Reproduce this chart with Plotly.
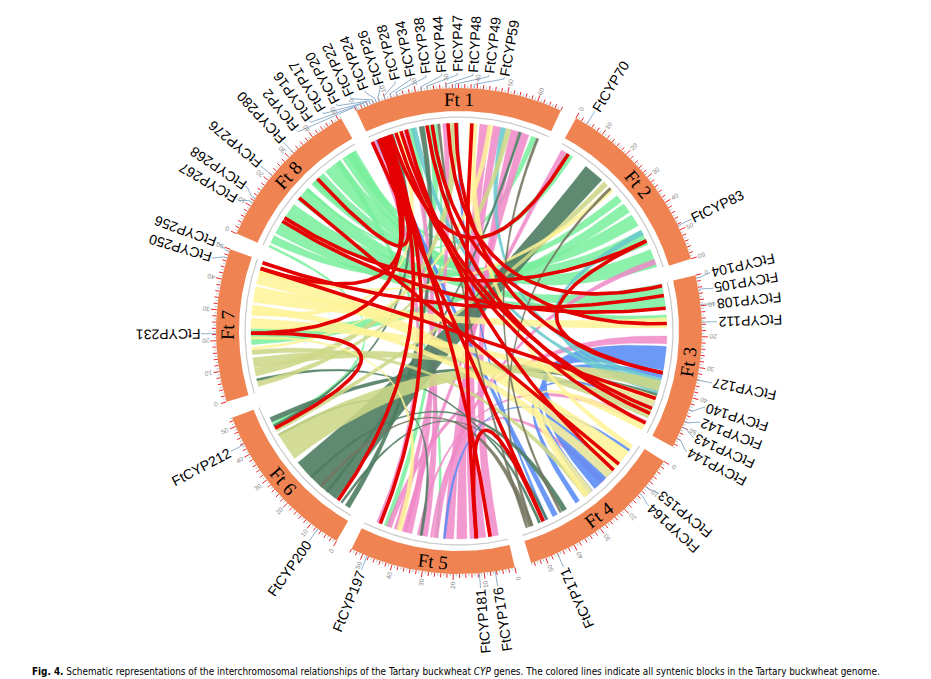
import numpy as np
import plotly.graph_objects as go

# ---------------- data ----------------
chrom_names = ["Ft1", "Ft2", "Ft3", "Ft4", "Ft5", "Ft6", "Ft7", "Ft8"]
chrom_labels = ["Ft 1", "Ft 2", "Ft 3", "Ft 4", "Ft 5", "Ft 6", "Ft 7", "Ft 8"]
chrom_lengths_mb = [68, 60, 57, 55, 54, 53, 50, 51]

gene_names = ["FtCYP2", "FtCYP16", "FtCYP17", "FtCYP20", "FtCYP22", "FtCYP24", "FtCYP26",
              "FtCYP28", "FtCYP34", "FtCYP38", "FtCYP44", "FtCYP47", "FtCYP48", "FtCYP49",
              "FtCYP59", "FtCYP70", "FtCYP83", "FtCYP104", "FtCYP105", "FtCYP108", "FtCYP112",
              "FtCYP127", "FtCYP140", "FtCYP142", "FtCYP143", "FtCYP144", "FtCYP153", "FtCYP164",
              "FtCYP171", "FtCYP176", "FtCYP181", "FtCYP197", "FtCYP200", "FtCYP212", "FtCYP231",
              "FtCYP250", "FtCYP256", "FtCYP267", "FtCYP268", "FtCYP276", "FtCYP280"]
gene_chroms = ["Ft1"] * 15 + ["Ft2"] * 2 + ["Ft3"] * 9 + ["Ft4"] * 3 + ["Ft5"] * 3 + \
              ["Ft6"] * 2 + ["Ft7"] * 3 + ["Ft8"] * 4
gene_pos_mb = [0.5, 3, 4, 5, 6, 7, 8, 10, 12, 14, 22, 24, 30, 33, 39,
               4, 48.5,
               1, 4.7, 9.6, 15.3, 34, 44, 48, 50, 54,
               10, 13, 46,
               6.4, 11.6, 48.5,
               7.2, 43.6,
               22.3, 47, 49.3,
               11.2, 12.7, 22, 32]

# segmental duplication pairs of CYP genes (red links)
cyp_pairs = [("FtCYP231", "FtCYP212"), ("FtCYP181", "FtCYP171"), ("FtCYP176", "FtCYP20"),
             ("FtCYP268", "FtCYP83"), ("FtCYP267", "FtCYP108"), ("FtCYP276", "FtCYP153"),
             ("FtCYP70", "FtCYP26"), ("FtCYP83", "FtCYP127"), ("FtCYP250", "FtCYP140"),
             ("FtCYP256", "FtCYP105"), ("FtCYP200", "FtCYP22"), ("FtCYP197", "FtCYP24"),
             ("FtCYP28", "FtCYP144"), ("FtCYP34", "FtCYP142"), ("FtCYP38", "FtCYP164"),
             ("FtCYP44", "FtCYP143"), ("FtCYP47", "FtCYP112"), ("FtCYP16", "FtCYP231"),
             ("FtCYP17", "FtCYP250"), ("FtCYP48", "FtCYP104"), ("FtCYP280", "FtCYP17"),
             ("FtCYP49", "FtCYP127"), ("FtCYP59", "FtCYP181"), ("FtCYP2", "FtCYP171")]

# syntenic blocks: (chrom A, start, end, chrom B, start, end, colour class), Mb
synteny_blocks = [
    ("Ft8", 44, 50, "Ft1", 14, 17, "g"), ("Ft8", 36, 43, "Ft2", 52, 59, "g"),
    ("Ft8", 29, 35, "Ft2", 44, 50, "g"), ("Ft8", 21, 27, "Ft3", 0, 5, "g"),
    ("Ft8", 13, 19, "Ft2", 37, 42, "g"), ("Ft8", 6, 11, "Ft3", 5, 9, "g"),
    ("Ft8", 2, 5, "Ft2", 28, 31, "g"), ("Ft8", 41, 43, "Ft5", 26, 27, "g"),
    ("Ft2", 3, 6, "Ft8", 47, 49, "g"), ("Ft7", 18, 24, "Ft2", 32, 36, "g"),
    ("Ft1", 22, 25, "Ft8", 30, 31, "g"), ("Ft1", 62, 64, "Ft8", 26, 27, "g"),
    ("Ft3", 12, 14, "Ft8", 46, 47, "g"), ("Ft5", 45, 47, "Ft1", 25, 26, "g"),
    ("Ft6", 44, 46, "Ft8", 0, 1, "g"),
    ("Ft1", 42, 46, "Ft5", 8, 14, "p"), ("Ft1", 47, 50, "Ft5", 15, 19, "p"),
    ("Ft1", 54, 57, "Ft5", 3, 7, "p"), ("Ft1", 58, 61, "Ft5", 20, 24, "p"),
    ("Ft1", 5, 7, "Ft5", 30, 33, "p"), ("Ft1", 13, 15, "Ft5", 36, 39, "p"),
    ("Ft1", 28, 30, "Ft5", 41, 43, "p"), ("Ft1", 0, 2, "Ft5", 48, 50, "p"),
    ("Ft2", 1, 3, "Ft5", 38, 40, "p"), ("Ft2", 56, 58, "Ft5", 26, 28, "p"),
    ("Ft3", 20, 23, "Ft5", 44, 46, "p"), ("Ft3", 53, 55, "Ft5", 33, 34, "p"),
    ("Ft4", 18, 20, "Ft5", 28, 29, "p"),
    ("Ft3", 24, 33, "Ft4", 14, 23, "b"), ("Ft3", 34, 36, "Ft4", 24, 26, "b"),
    ("Ft3", 45, 47, "Ft4", 30, 32, "b"), ("Ft1", 2, 4, "Ft4", 40, 42, "b"),
    ("Ft1", 33, 34, "Ft4", 44, 45, "b"), ("Ft4", 3, 4, "Ft5", 23, 24, "b"),
    ("Ft1", 16, 18, "Ft3", 40, 42, "t"), ("Ft1", 50, 52, "Ft3", 36, 38, "t"),
    ("Ft2", 44, 46, "Ft3", 38, 40, "t"),
    ("Ft2", 12, 20, "Ft6", 8, 28, "dg"), ("Ft1", 7, 9, "Ft6", 44, 45, "dg"),
    ("Ft1", 19, 21, "Ft6", 2, 4, "dg"), ("Ft3", 42, 44, "Ft6", 46, 48, "dg"),
    ("Ft4", 36, 38, "Ft6", 20, 21, "dg"), ("Ft4", 44, 45, "Ft6", 5, 6, "dg"),
    ("Ft4", 47, 48, "Ft7", 4, 5, "dg"), ("Ft1", 57, 58, "Ft6", 12, 13, "dg"),
    ("Ft5", 32, 33, "Ft6", 40, 41, "dg"),
    ("Ft3", 37, 41, "Ft6", 30, 41, "k"), ("Ft1", 31, 34, "Ft7", 6, 9, "k"),
    ("Ft1", 52, 54, "Ft7", 2, 4, "k"), ("Ft2", 21, 23, "Ft6", 42, 44, "k"),
    ("Ft3", 48, 52, "Ft7", 9, 13, "k"), ("Ft4", 26, 28, "Ft7", 14, 16, "k"),
    ("Ft4", 4, 12, "Ft7", 41, 48, "y"), ("Ft3", 13, 17, "Ft7", 34, 40, "y"),
    ("Ft3", 43, 47, "Ft7", 24, 28, "y"), ("Ft1", 10, 12, "Ft7", 29, 31, "y"),
    ("Ft1", 45, 47, "Ft7", 16, 17, "y"), ("Ft1", 38, 41, "Ft4", 1, 3, "y"),
    ("Ft4", 13, 17, "Ft7", 30, 33, "y"), ("Ft3", 54, 57, "Ft4", 24, 28, "y"),
    ("Ft2", 24, 26, "Ft7", 45, 46, "y"), ("Ft5", 40, 42, "Ft7", 20, 21, "y"),
    ("Ft2", 24, 25, "Ft4", 50, 51, "o"), ("Ft4", 50, 52, "Ft6", 15, 16, "o"),
    ("Ft1", 26, 27, "Ft4", 52, 53, "o"), ("Ft1", 64, 65, "Ft4", 38, 39, "o"),
]

colour_classes = {"g": "rgba(120,238,155,0.85)", "p": "rgba(240,135,200,0.85)",
                  "b": "rgba(88,138,245,0.88)", "t": "rgba(105,200,205,0.88)",
                  "dg": "rgba(78,124,98,0.9)", "k": "rgba(205,215,135,0.88)",
                  "y": "rgba(255,243,150,0.85)", "o": "rgba(118,118,96,0.9)"}

caption_html = ("<b>Fig. 4.</b> Schematic representations of the interchromosomal relationships "
                "of the Tartary buckwheat <i>CYP</i> genes. The colored lines indicate all syntenic "
                "blocks in the Tartary buckwheat genome.")

# ---------------- geometry ----------------
W, H = 931, 679
CX, CY = 451, 323
R_OUT, R_IN, R_GRAY, R_LINK = 243, 220, 214, 208
GAP_DEG, START_DEG = 4.0, -25.0
SCALE = (360 - GAP_DEG * len(chrom_names)) / sum(chrom_lengths_mb)

chrom_start = {}
a = START_DEG
for n, L in zip(chrom_names, chrom_lengths_mb):
    chrom_start[n] = a
    a += L * SCALE + GAP_DEG


def ang(c, mb):
    return chrom_start[c] + mb * SCALE


def xy(theta, r):
    t = np.radians(theta)
    return CX + r * np.sin(t), CY - r * np.cos(t)


def flip(theta):
    t = theta % 360
    return 72 <= t < 252


fig = go.Figure()
ann = []

# chromosome bands
for n, lab, L in zip(chrom_names, chrom_labels, chrom_lengths_mb):
    th = np.linspace(ang(n, 0), ang(n, L), 80)
    xo, yo = xy(th, R_OUT)
    xi, yi = xy(th[::-1], R_IN)
    fig.add_trace(go.Scatter(x=np.r_[xo, xi, xo[:1]], y=np.r_[yo, yi, yo[:1]], mode="lines",
                             fill="toself", fillcolor="#EF8452", line=dict(width=0),
                             hoverinfo="skip", showlegend=False))
    gx, gy = xy(th, R_GRAY)
    fig.add_trace(go.Scatter(x=gx, y=gy, mode="lines", line=dict(color="#C9C9C9", width=1.2),
                             hoverinfo="skip", showlegend=False))
    mid = ang(n, L / 2)
    tx, ty = xy(mid, (R_OUT + R_IN) / 2)
    rot = mid - 180 if flip(mid) else mid
    rot = (rot + 180) % 360 - 180
    ann.append(dict(x=tx, y=ty, text=lab, showarrow=False, textangle=rot,
                    font=dict(family="Liberation Serif", size=19, color="black"),
                    xanchor="center", yanchor="middle"))

# ticks
gx_, gy_, rx_, ry_ = [], [], [], []
for n, L in zip(chrom_names, chrom_lengths_mb):
    for m in range(0, L + 1):
        th = ang(n, m)
        if m % 10 == 0:
            r2 = R_OUT + 6
            x0, y0 = xy(th, R_OUT); x1, y1 = xy(th, r2)
            rx_ += [x0, x1, None]; ry_ += [y0, y1, None]
            lx, ly = xy(th, R_OUT + 11)
            rot = th + 90 if flip(th) else th - 90
            rot = (rot + 180) % 360 - 180
            ann.append(dict(x=lx, y=ly, text=str(m), showarrow=False, textangle=rot,
                            font=dict(family="Liberation Sans", size=6.5, color="#8a8a8a"),
                            xanchor="center", yanchor="middle"))
        elif m % 2 == 0:
            x0, y0 = xy(th, R_OUT); x1, y1 = xy(th, R_OUT + 4)
            rx_ += [x0, x1, None]; ry_ += [y0, y1, None]
        else:
            x0, y0 = xy(th, R_OUT); x1, y1 = xy(th, R_OUT + 2.5)
            gx_ += [x0, x1, None]; gy_ += [y0, y1, None]
fig.add_trace(go.Scatter(x=gx_, y=gy_, mode="lines", line=dict(color="#b0b0b0", width=0.8),
                         hoverinfo="skip", showlegend=False))
fig.add_trace(go.Scatter(x=rx_, y=ry_, mode="lines", line=dict(color="#e8262a", width=1),
                         hoverinfo="skip", showlegend=False))


# links
def bez(p0, p2, n=60):
    t = np.linspace(0, 1, n)[:, None]
    c = np.array([CX, CY])
    pts = (1 - t) ** 2 * np.array(p0) + 2 * (1 - t) * t * c + t ** 2 * np.array(p2)
    return pts[:, 0], pts[:, 1]


for ca, a0, a1, cb, b0, b1, col in synteny_blocks:
    A = np.linspace(ang(ca, a0), ang(ca, a1), 20)
    B = np.linspace(ang(cb, b0), ang(cb, b1), 20)
    ax_, ay_ = xy(A, R_LINK)
    bx_, by_ = xy(B, R_LINK)
    c1x, c1y = bez((ax_[-1], ay_[-1]), (bx_[0], by_[0]))
    c2x, c2y = bez((bx_[-1], by_[-1]), (ax_[0], ay_[0]))
    fig.add_trace(go.Scatter(x=np.r_[ax_, c1x, bx_, c2x], y=np.r_[ay_, c1y, by_, c2y],
                             mode="lines", fill="toself", fillcolor=colour_classes[col],
                             line=dict(width=0.3, color=colour_classes[col]),
                             hoverinfo="skip", showlegend=False))

gene_theta = {g: ang(c, p) for g, c, p in zip(gene_names, gene_chroms, gene_pos_mb)}
for g1, g2 in cyp_pairs:
    p1 = xy(gene_theta[g1], R_LINK)
    p2 = xy(gene_theta[g2], R_LINK)
    lx, ly = bez(p1, p2, 80)
    fig.add_trace(go.Scatter(x=lx, y=ly, mode="lines", line=dict(color="rgb(228,0,0)", width=3.6),
                             hoverinfo="skip", showlegend=False))

# gene labels with spread
thetas = np.array([gene_theta[g] for g in gene_names])
unwrapped = np.where(thetas > 260, thetas - 360, thetas)
order = np.argsort(unwrapped)
lab = unwrapped[order].copy()
SEP = 3.5
for _ in range(600):
    for i in range(len(lab) - 1):
        d = lab[i + 1] - lab[i]
        if d < SEP:
            s = (SEP - d) / 2
            lab[i] -= s
            lab[i + 1] += s
label_theta = np.empty_like(lab)
label_theta[order] = lab

em = {"F": .611, "t": .278, "C": .722, "Y": .667, "P": .667}
FS = 14
cx_, cy_ = [], []
for g, th, lt in zip(gene_names, thetas, label_theta):
    p0 = xy(th, R_OUT); p1 = xy(th, R_OUT + 4); p2 = xy(lt, R_OUT + 13); p3 = xy(lt, R_OUT + 15)
    cx_ += [p0[0], p1[0], p2[0], p3[0], None]
    cy_ += [p0[1], p1[1], p2[1], p3[1], None]
    w = sum(em.get(ch, .556) for ch in g) * FS
    tx, ty = xy(lt, R_OUT + 16 + w / 2)
    rot = lt + 90 if flip(lt) else lt - 90
    rot = (rot + 180) % 360 - 180
    ann.append(dict(x=tx, y=ty, text=g, showarrow=False, textangle=rot,
                    font=dict(family="Liberation Sans", size=FS, color="black"),
                    xanchor="center", yanchor="middle"))
fig.add_trace(go.Scatter(x=cx_, y=cy_, mode="lines", line=dict(color="#8fb0cc", width=1),
                         hoverinfo="skip", showlegend=False))

ann.append(dict(x=22, y=663, text=caption_html, showarrow=False, xanchor="left", yanchor="middle",
                font=dict(family="DejaVu Sans Condensed", size=9.9, color="black")))

fig.update_layout(width=W, height=H, margin=dict(l=0, r=0, t=0, b=0),
                  paper_bgcolor="white", plot_bgcolor="white", annotations=ann,
                  xaxis=dict(range=[0, W], visible=False, fixedrange=True),
                  yaxis=dict(range=[H, 0], visible=False, fixedrange=True))
fig.write_html("out.html")
